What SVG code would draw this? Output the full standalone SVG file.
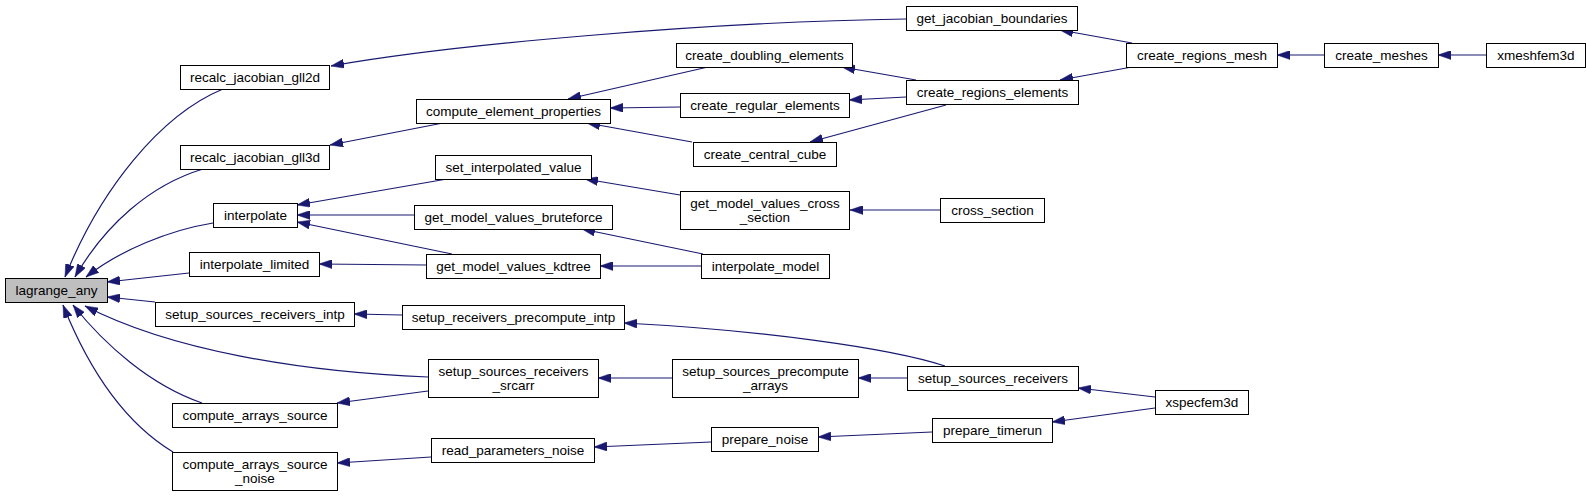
<svg xmlns="http://www.w3.org/2000/svg" width="1586" height="496" viewBox="0 0 1586 496">
<style>
.n rect{fill:#fff;stroke:#000;stroke-width:1}
.n.cur rect{fill:#bfbfbf}
.n text{font-family:"Liberation Sans",Arial,sans-serif;font-size:13.5px;fill:#000;text-anchor:middle}
.e path{fill:none;stroke:#191970;stroke-width:1.2;marker-end:url(#ah)}
</style>
<defs>
<marker id="ah" viewBox="0 0 13 9" refX="13" refY="4.5" markerWidth="13" markerHeight="9" markerUnits="userSpaceOnUse" orient="auto">
<path d="M0,0 L13,4.5 L0,9 z" fill="#191970" stroke="#191970" stroke-width="0.5"/>
</marker>
</defs>
<rect width="1586" height="496" fill="#fff"/>
<g id="edges" class="e">
<path d="M223,89 C160,115 100,190 65,277"/>
<path d="M203,169 C150,185 105,225 75,277"/>
<path d="M213,223 C170,230 120,250 86,277"/>
<path d="M189,273 L107,282"/>
<path d="M155,302 L107,297"/>
<path d="M428,377 C300,372 170,350 85,306"/>
<path d="M202,403 C150,385 105,345 73,305"/>
<path d="M173,452 C120,420 85,360 63,305"/>
<path d="M906,19 C700,22 450,45 331,66"/>
<path d="M443,123 L330,145"/>
<path d="M447,179 L297,205"/>
<path d="M414,215 L297,215"/>
<path d="M452,254 L297,222"/>
<path d="M426,265 L319,264"/>
<path d="M402,315 L354,314"/>
<path d="M428,391 L337,403"/>
<path d="M431,457 L337,463"/>
<path d="M708,67 L568,99"/>
<path d="M680,107 L610,108"/>
<path d="M692,142 L587,123"/>
<path d="M680,195 L585,179"/>
<path d="M703,254 L582,229"/>
<path d="M701,266 L600,266"/>
<path d="M945,366 C890,348 760,330 624,323"/>
<path d="M672,378 L598,378"/>
<path d="M711,442 L594,447"/>
<path d="M1132,43 L1060,30"/>
<path d="M916,80 L842,67"/>
<path d="M906,97 L849,100"/>
<path d="M946,105 L810,142"/>
<path d="M940,210 L850,210"/>
<path d="M907,378 L858,378"/>
<path d="M932,432 L818,437"/>
<path d="M1132,67 L1060,80"/>
<path d="M1324,55 L1277,55"/>
<path d="M1486,55 L1438,55"/>
<path d="M1155,397 L1078,388"/>
<path d="M1155,408 L1052,422"/>
</g>
<g id="lagrange_any" class="n cur"><rect x="5.5" y="278.5" width="102" height="24"/><text x="56.5" y="295">lagrange_any</text></g>
<g id="recalc_jacobian_gll2d" class="n"><rect x="180.5" y="65.5" width="149" height="24"/><text x="255" y="82">recalc_jacobian_gll2d</text></g>
<g id="recalc_jacobian_gll3d" class="n"><rect x="180.5" y="145.5" width="149" height="24"/><text x="255" y="162">recalc_jacobian_gll3d</text></g>
<g id="interpolate" class="n"><rect x="213.5" y="203.5" width="84" height="24"/><text x="255.5" y="220">interpolate</text></g>
<g id="interpolate_limited" class="n"><rect x="189.5" y="252.5" width="130" height="24"/><text x="254.5" y="269">interpolate_limited</text></g>
<g id="setup_sources_receivers_intp" class="n"><rect x="155.5" y="302.5" width="199" height="24"/><text x="255" y="319">setup_sources_receivers_intp</text></g>
<g id="compute_arrays_source" class="n"><rect x="172.5" y="403.5" width="165" height="24"/><text x="255" y="420">compute_arrays_source</text></g>
<g id="compute_arrays_source_noise" class="n"><rect x="172.5" y="452.5" width="165" height="38"/><text x="255" y="469">compute_arrays_source</text><text x="255" y="483">_noise</text></g>
<g id="compute_element_properties" class="n"><rect x="416.5" y="99.5" width="194" height="24"/><text x="513.5" y="116">compute_element_properties</text></g>
<g id="set_interpolated_value" class="n"><rect x="435.5" y="155.5" width="156" height="24"/><text x="513.5" y="172">set_interpolated_value</text></g>
<g id="get_model_values_bruteforce" class="n"><rect x="414.5" y="205.5" width="198" height="24"/><text x="513.5" y="222">get_model_values_bruteforce</text></g>
<g id="get_model_values_kdtree" class="n"><rect x="426.5" y="254.5" width="174" height="24"/><text x="513.5" y="271">get_model_values_kdtree</text></g>
<g id="setup_receivers_precompute_intp" class="n"><rect x="402.5" y="305.5" width="222" height="24"/><text x="513.5" y="322">setup_receivers_precompute_intp</text></g>
<g id="setup_sources_receivers_srcarr" class="n"><rect x="428.5" y="359.5" width="170" height="38"/><text x="513.5" y="376">setup_sources_receivers</text><text x="513.5" y="390">_srcarr</text></g>
<g id="read_parameters_noise" class="n"><rect x="431.5" y="438.5" width="163" height="24"/><text x="513" y="455">read_parameters_noise</text></g>
<g id="create_doubling_elements" class="n"><rect x="676.5" y="43.5" width="176" height="24"/><text x="764.5" y="60">create_doubling_elements</text></g>
<g id="create_regular_elements" class="n"><rect x="680.5" y="93.5" width="169" height="24"/><text x="765" y="110">create_regular_elements</text></g>
<g id="create_central_cube" class="n"><rect x="693.5" y="142.5" width="143" height="24"/><text x="765" y="159">create_central_cube</text></g>
<g id="get_model_values_cross_section" class="n"><rect x="680.5" y="191.5" width="169" height="38"/><text x="765" y="208">get_model_values_cross</text><text x="765" y="222">_section</text></g>
<g id="interpolate_model" class="n"><rect x="701.5" y="254.5" width="128" height="24"/><text x="765.5" y="271">interpolate_model</text></g>
<g id="setup_sources_precompute_arrays" class="n"><rect x="672.5" y="359.5" width="186" height="38"/><text x="765.5" y="376">setup_sources_precompute</text><text x="765.5" y="390">_arrays</text></g>
<g id="prepare_noise" class="n"><rect x="711.5" y="427.5" width="107" height="24"/><text x="765" y="444">prepare_noise</text></g>
<g id="get_jacobian_boundaries" class="n"><rect x="906.5" y="6.5" width="171" height="24"/><text x="992" y="23">get_jacobian_boundaries</text></g>
<g id="create_regions_elements" class="n"><rect x="906.5" y="80.5" width="172" height="24"/><text x="992.5" y="97">create_regions_elements</text></g>
<g id="cross_section" class="n"><rect x="940.5" y="198.5" width="104" height="24"/><text x="992.5" y="215">cross_section</text></g>
<g id="setup_sources_receivers" class="n"><rect x="907.5" y="366.5" width="171" height="24"/><text x="993" y="383">setup_sources_receivers</text></g>
<g id="prepare_timerun" class="n"><rect x="932.5" y="418.5" width="120" height="24"/><text x="992.5" y="435">prepare_timerun</text></g>
<g id="create_regions_mesh" class="n"><rect x="1126.5" y="43.5" width="151" height="24"/><text x="1202" y="60">create_regions_mesh</text></g>
<g id="xspecfem3d" class="n"><rect x="1155.5" y="390.5" width="93" height="24"/><text x="1202" y="407">xspecfem3d</text></g>
<g id="create_meshes" class="n"><rect x="1324.5" y="43.5" width="114" height="24"/><text x="1381.5" y="60">create_meshes</text></g>
<g id="xmeshfem3d" class="n"><rect x="1486.5" y="43.5" width="99" height="24"/><text x="1536" y="60">xmeshfem3d</text></g>
</svg>
